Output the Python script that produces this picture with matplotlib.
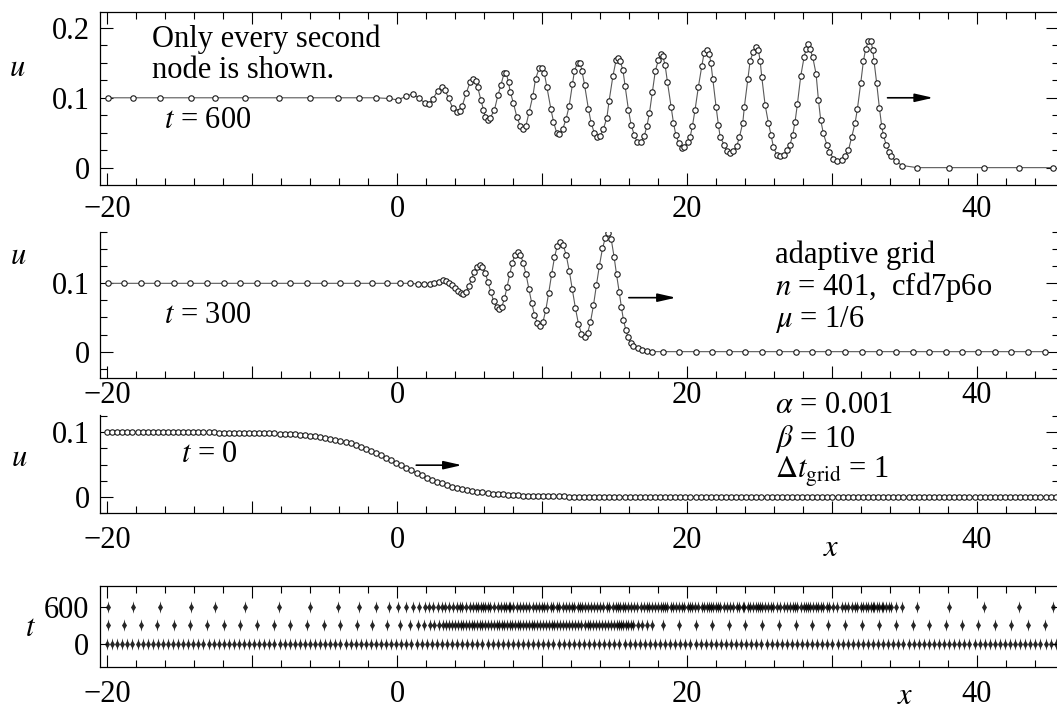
import numpy as np
import matplotlib
matplotlib.use("Agg")
import matplotlib.pyplot as plt
from matplotlib.ticker import MultipleLocator, FixedLocator, FuncFormatter

# t = 600 (only every second node)
x600 = [-19.96, -18.23, -16.32, -14.21, -12.53, -10.51, -8.16, -5.98, -4.10, -2.60,
        -1.45, -0.55, 0.04, 0.62, 1.10, 1.54, 1.95, 2.18, 2.48, 2.80,
        3.10, 3.33, 3.56, 3.86, 4.14, 4.32, 4.50, 4.78, 5.06, 5.24,
        5.47, 5.56, 5.79, 5.97, 6.09, 6.25, 6.43, 6.73, 6.97, 7.17,
        7.40, 7.54, 7.70, 7.81, 8.04, 8.28, 8.50, 8.69, 8.90, 9.12,
        9.38, 9.56, 9.81, 10.00, 10.16, 10.34, 10.62, 10.80, 11.03, 11.19,
        11.45, 11.66, 11.88, 12.11, 12.25, 12.46, 12.64, 12.76, 12.94, 13.21,
        13.40, 13.61, 13.83, 14.02, 14.25, 14.48, 14.64, 14.90, 15.12, 15.28,
        15.40, 15.59, 15.74, 15.97, 16.16, 16.37, 16.59, 16.83, 17.06, 17.24,
        17.42, 17.63, 17.83, 18.04, 18.21, 18.34, 18.50, 18.66, 18.92, 19.08,
        19.24, 19.45, 19.66, 19.83, 20.07, 20.23, 20.39, 20.57, 20.80, 21.03,
        21.19, 21.38, 21.56, 21.66, 21.79, 22.02, 22.18, 22.30, 22.57, 22.76,
        22.99, 23.21, 23.45, 23.63, 23.86, 23.97, 24.21, 24.37, 24.59, 24.78,
        24.94, 25.06, 25.17, 25.40, 25.63, 25.81, 25.97, 26.21, 26.43, 26.71,
        26.94, 27.12, 27.31, 27.47, 27.63, 27.86, 28.09, 28.23, 28.39, 28.50,
        28.69, 28.92, 29.08, 29.24, 29.42, 29.66, 29.84, 30.11, 30.39, 30.69,
        30.92, 31.15, 31.38, 31.61, 31.77, 32.00, 32.18, 32.34, 32.53, 32.69,
        32.83, 32.92, 33.10, 33.29, 33.45, 33.56, 33.75, 33.95, 34.11, 34.41,
        34.88, 35.90, 38.10, 40.50, 42.90, 45.30]
u600 = [0.100, 0.100, 0.100, 0.100, 0.100, 0.100, 0.100, 0.100, 0.100, 0.100,
        0.100, 0.099, 0.097, 0.102, 0.106, 0.099, 0.092, 0.091, 0.098, 0.110,
        0.115, 0.111, 0.099, 0.085, 0.079, 0.081, 0.088, 0.107, 0.123, 0.127,
        0.124, 0.116, 0.097, 0.083, 0.073, 0.068, 0.071, 0.083, 0.104, 0.118,
        0.136, 0.135, 0.122, 0.109, 0.092, 0.072, 0.060, 0.056, 0.060, 0.080,
        0.103, 0.127, 0.142, 0.143, 0.136, 0.116, 0.084, 0.066, 0.049, 0.048,
        0.056, 0.069, 0.088, 0.120, 0.139, 0.150, 0.150, 0.139, 0.119, 0.084,
        0.064, 0.050, 0.044, 0.045, 0.056, 0.071, 0.096, 0.131, 0.154, 0.157,
        0.152, 0.140, 0.117, 0.083, 0.061, 0.047, 0.036, 0.037, 0.045, 0.059,
        0.078, 0.109, 0.139, 0.154, 0.163, 0.160, 0.147, 0.123, 0.087, 0.064,
        0.047, 0.035, 0.028, 0.030, 0.037, 0.044, 0.060, 0.083, 0.116, 0.145,
        0.164, 0.168, 0.162, 0.150, 0.127, 0.087, 0.061, 0.044, 0.033, 0.024,
        0.021, 0.024, 0.031, 0.044, 0.064, 0.087, 0.127, 0.153, 0.166, 0.173,
        0.168, 0.153, 0.130, 0.090, 0.064, 0.047, 0.030, 0.018, 0.016, 0.018,
        0.025, 0.033, 0.047, 0.066, 0.091, 0.131, 0.158, 0.170, 0.177, 0.170,
        0.158, 0.134, 0.097, 0.068, 0.049, 0.033, 0.023, 0.013, 0.009, 0.011,
        0.017, 0.025, 0.044, 0.064, 0.084, 0.121, 0.152, 0.170, 0.181, 0.182,
        0.169, 0.152, 0.121, 0.085, 0.059, 0.047, 0.033, 0.023, 0.016, 0.009,
        0.003, 0.000, 0.000, 0.000, 0.000, 0.000]

# t = 300
x300 = [-19.96, -18.81, -17.66, -16.55, -15.41, -14.26, -13.10, -11.95, -10.81, -9.66,
        -8.51, -7.36, -6.21, -5.06, -3.91, -2.76, -1.72, -0.69, 0.20, 0.92,
        1.44, 1.84, 2.25, 2.53, 2.87, 3.21, 3.41, 3.60, 3.80, 4.00,
        4.20, 4.39, 4.59, 4.78, 4.96, 5.15, 5.33, 5.52, 5.70, 5.89,
        6.09, 6.28, 6.48, 6.67, 6.87, 7.06, 7.24, 7.42, 7.60, 7.78,
        7.96, 8.14, 8.32, 8.52, 8.71, 8.91, 9.10, 9.30, 9.49, 9.69,
        9.88, 10.08, 10.27, 10.47, 10.67, 10.87, 11.06, 11.26, 11.47, 11.68,
        11.89, 12.10, 12.31, 12.52, 12.73, 12.94, 13.15, 13.35, 13.56, 13.76,
        13.97, 14.18, 14.38, 14.59, 14.78, 14.98, 15.15, 15.33, 15.48, 15.63,
        15.79, 15.95, 16.13, 16.32, 16.60, 16.90, 17.24, 17.59, 18.38, 19.48,
        20.62, 21.73, 22.91, 24.04, 25.20, 26.38, 27.52, 28.65, 29.76, 30.94,
        32.07, 33.23, 34.41, 35.59, 36.68, 37.86, 38.97, 40.08, 41.26, 42.39,
        43.57, 44.71]
u300 = [0.100, 0.100, 0.100, 0.100, 0.100, 0.100, 0.100, 0.100, 0.100, 0.100,
        0.100, 0.100, 0.100, 0.100, 0.100, 0.100, 0.100, 0.100, 0.100, 0.100,
        0.099, 0.099, 0.099, 0.100, 0.102, 0.105, 0.104, 0.101, 0.097, 0.093,
        0.089, 0.086, 0.085, 0.088, 0.096, 0.106, 0.117, 0.124, 0.127, 0.124,
        0.115, 0.102, 0.087, 0.074, 0.065, 0.062, 0.066, 0.078, 0.095, 0.113,
        0.130, 0.142, 0.146, 0.142, 0.130, 0.113, 0.092, 0.071, 0.054, 0.042,
        0.038, 0.044, 0.061, 0.086, 0.113, 0.138, 0.155, 0.161, 0.156, 0.141,
        0.118, 0.091, 0.064, 0.041, 0.026, 0.021, 0.027, 0.043, 0.068, 0.097,
        0.126, 0.151, 0.167, 0.173, 0.165, 0.139, 0.113, 0.088, 0.066, 0.046,
        0.032, 0.021, 0.013, 0.008, 0.005, 0.003, 0.001, 0.000, 0.000, 0.000,
        0.000, 0.000, 0.000, 0.000, 0.000, 0.000, 0.000, 0.000, 0.000, 0.000,
        0.000, 0.000, 0.000, 0.000, 0.000, 0.000, 0.000, 0.000, 0.000, 0.000,
        0.000, 0.000]

# t = 0 (uniform starting grid)
x0 = [-20.00, -19.65, -19.30, -18.95, -18.60, -18.25, -17.90, -17.55, -17.20, -16.85,
      -16.50, -16.15, -15.80, -15.45, -15.10, -14.75, -14.40, -14.05, -13.70, -13.35,
      -13.00, -12.65, -12.30, -11.95, -11.60, -11.25, -10.90, -10.55, -10.20, -9.85,
      -9.50, -9.15, -8.80, -8.45, -8.10, -7.75, -7.40, -7.05, -6.70, -6.35,
      -6.00, -5.65, -5.30, -4.95, -4.60, -4.25, -3.90, -3.55, -3.20, -2.85,
      -2.50, -2.15, -1.80, -1.45, -1.10, -0.75, -0.40, -0.05, 0.30, 0.65,
      1.00, 1.35, 1.70, 2.05, 2.40, 2.75, 3.10, 3.45, 3.80, 4.15,
      4.50, 4.85, 5.20, 5.55, 5.90, 6.25, 6.60, 6.95, 7.30, 7.65,
      8.00, 8.35, 8.70, 9.05, 9.40, 9.75, 10.10, 10.45, 10.80, 11.15,
      11.50, 11.85, 12.20, 12.55, 12.90, 13.25, 13.60, 13.95, 14.30, 14.65,
      15.00, 15.35, 15.70, 16.05, 16.40, 16.75, 17.10, 17.45, 17.80, 18.15,
      18.50, 18.85, 19.20, 19.55, 19.90, 20.25, 20.60, 20.95, 21.30, 21.65,
      22.00, 22.35, 22.70, 23.05, 23.40, 23.75, 24.10, 24.45, 24.80, 25.15,
      25.50, 25.85, 26.20, 26.55, 26.90, 27.25, 27.60, 27.95, 28.30, 28.65,
      29.00, 29.35, 29.70, 30.05, 30.40, 30.75, 31.10, 31.45, 31.80, 32.15,
      32.50, 32.85, 33.20, 33.55, 33.90, 34.25, 34.60, 34.95, 35.30, 35.65,
      36.00, 36.35, 36.70, 37.05, 37.40, 37.75, 38.10, 38.45, 38.80, 39.15,
      39.50, 39.85, 40.20, 40.55, 40.90, 41.25, 41.60, 41.95, 42.30, 42.65,
      43.00, 43.35, 43.70, 44.05, 44.40, 44.75, 45.10, 45.45]
u0 = ([0.1000] * 20 +
      [0.1000, 0.1000, 0.0997, 0.0996, 0.0996, 0.0995, 0.0994, 0.0993, 0.0992, 0.0991,
       0.0989, 0.0987, 0.0985, 0.0983, 0.0979, 0.0976, 0.0972, 0.0967, 0.0961, 0.0955,
       0.0947, 0.0938, 0.0928, 0.0917, 0.0903, 0.0888, 0.0871, 0.0851, 0.0830, 0.0805,
       0.0778, 0.0749, 0.0717, 0.0683, 0.0647, 0.0609, 0.0570, 0.0529, 0.0488, 0.0448,
       0.0408, 0.0370, 0.0332, 0.0297, 0.0264, 0.0234, 0.0206, 0.0181, 0.0158, 0.0137,
       0.0119, 0.0103, 0.0089, 0.0077, 0.0066, 0.0057, 0.0049, 0.0041, 0.0035, 0.0030,
       0.0026, 0.0022, 0.0018, 0.0016, 0.0013, 0.0011, 0.0009, 0.0008, 0.0007, 0.0006,
       0.0005] +
      [0.0] * 97)

t_rows = [0, 300, 600]

plt.rcParams["font.family"] = ["Liberation Serif", "DejaVu Serif"]
plt.rcParams["mathtext.fontset"] = "stix"
plt.rcParams["font.size"] = 22
plt.rcParams["axes.linewidth"] = 0.9

fig = plt.figure(figsize=(10.57, 7.15), dpi=100)
L = 100 / 1057
W = 1059 / 1057 - L
ax1 = fig.add_axes([L, 0.7413, W, 0.2420])
ax2 = fig.add_axes([L, 0.4709, W, 0.2050])
ax3 = fig.add_axes([L, 0.2821, W, 0.1375])
ax4 = fig.add_axes([L, 0.0676, W, 0.1133])


def xfmt(v, p):
    n = int(round(v))
    if n % 20 != 0:
        return ""
    return str(n).replace("-", "\u2212")


def yfmt(v, p):
    if abs(v) < 1e-9:
        return "0"
    return f"{v:.1f}"


def setup(ax, xpad, top):
    ax.set_xlim(-20.49, 45.68)
    ax.xaxis.set_major_locator(MultipleLocator(10))
    ax.xaxis.set_minor_locator(MultipleLocator(2))
    ax.xaxis.set_major_formatter(FuncFormatter(xfmt))
    ax.tick_params(which="both", direction="in", right=True, top=top, width=0.8)
    ax.tick_params(axis="x", which="major", length=8.5, pad=xpad)
    ax.tick_params(axis="x", which="minor", length=5)
    ax.tick_params(axis="y", which="major", length=9.5, pad=7.5)
    ax.tick_params(axis="y", which="minor", length=5)
    if not top:
        ax.spines["top"].set_visible(False)


line_kw = dict(color="0.35", lw=0.8, marker="o", ms=3.9, mfc="white",
               mec="0.1", mew=0.8)
arrow_kw = dict(arrowstyle="-|>,head_length=1.1,head_width=0.25", color="k",
                lw=1.2, mutation_scale=10, shrinkA=0, shrinkB=0)

# panel 1: t = 600
ax1.plot(x600, u600, **line_kw)
setup(ax1, 7, True)
ax1.set_ylim(-0.0248, 0.2229)
ax1.yaxis.set_major_locator(FixedLocator([0, 0.1, 0.2]))
ax1.yaxis.set_minor_locator(MultipleLocator(0.025))
ax1.yaxis.set_major_formatter(FuncFormatter(yfmt))
ax1.text(-16.9, 0.1285, "Only every second\nnode is shown.", va="baseline",
         linespacing=1.08)
ax1.text(-16.1, 0.0564, r"$t$ = 600", va="baseline")
ax1.annotate("", xy=(37.0, 0.1), xytext=(33.85, 0.1), arrowprops=arrow_kw)

# panel 2: t = 300
ax2.plot(x300, u300, **line_kw)
setup(ax2, 2, False)
ax2.set_ylim(-0.039, 0.1755)
ax2.yaxis.set_major_locator(FixedLocator([0, 0.1]))
ax2.yaxis.set_minor_locator(MultipleLocator(0.025))
ax2.yaxis.set_major_formatter(FuncFormatter(yfmt))
ax2.text(-16.1, 0.0415, r"$t$ = 300", va="baseline")
ax2.text(26.1, 0.1297, "adaptive grid", va="baseline")
ax2.text(26.1, 0.0829, r"$n$ = 401,  cfd7p6o", va="baseline")
ax2.text(26.1, 0.0365, r"$\mu$ = 1/6", va="baseline")
ax2.annotate("", xy=(19.25, 0.079), xytext=(16.0, 0.079), arrowprops=arrow_kw)

# panel 3: t = 0
ax3.plot(x0, u0, **line_kw)
setup(ax3, 9, False)
ax3.set_ylim(-0.0258, 0.127)
ax3.yaxis.set_major_locator(FixedLocator([0, 0.1]))
ax3.yaxis.set_minor_locator(MultipleLocator(0.025))
ax3.yaxis.set_major_formatter(FuncFormatter(yfmt))
ax3.text(-14.9, 0.054, r"$t$ = 0", va="baseline")
ax3.text(26.1, 0.130, r"$\alpha$ = 0.001", va="baseline")
ax3.text(26.1, 0.0776, r"$\beta$ = 10", va="baseline")
ax3.text(26.1, 0.029, r"$\mathit{\Delta}t_{\mathrm{grid}}$ = 1", va="baseline")
ax3.annotate("", xy=(4.48, 0.049), xytext=(1.33, 0.049), arrowprops=arrow_kw)

# panel 4: node positions
node = [(0, -1), (0.1, -0.5), (0.4, 0), (0.1, 0.5), (0, 1),
        (-0.1, 0.5), (-0.4, 0), (-0.1, -0.5), (0, -1)]
for xs, t in zip([x0, x300, x600], t_rows):
    ax4.plot(xs, np.full(len(xs), t), ls="none", marker=node, ms=9,
             color="k", mew=0, alpha=0.85)
setup(ax4, 9.5, True)
ax4.set_ylim(-357, 935)
ax4.yaxis.set_major_locator(FixedLocator([0, 600]))
ax4.yaxis.set_minor_locator(FixedLocator([]))
ax4.tick_params(axis="y", which="major", length=5, pad=8)

fig.text(17 / 1057, 1 - 68 / 715, r"$u$", ha="center", va="center")
fig.text(18 / 1057, 1 - 257 / 715, r"$u$", ha="center", va="center")
fig.text(19 / 1057, 1 - 458 / 715, r"$u$", ha="center", va="center")
fig.text(31 / 1057, 1 - 628 / 715, r"$t$", ha="center", va="center")
fig.text(831 / 1057, 1 - 548 / 715, r"$x$", ha="center", va="center")
fig.text(905 / 1057, 1 - 697 / 715, r"$x$", ha="center", va="center")

fig.savefig("out.png", dpi=100)
